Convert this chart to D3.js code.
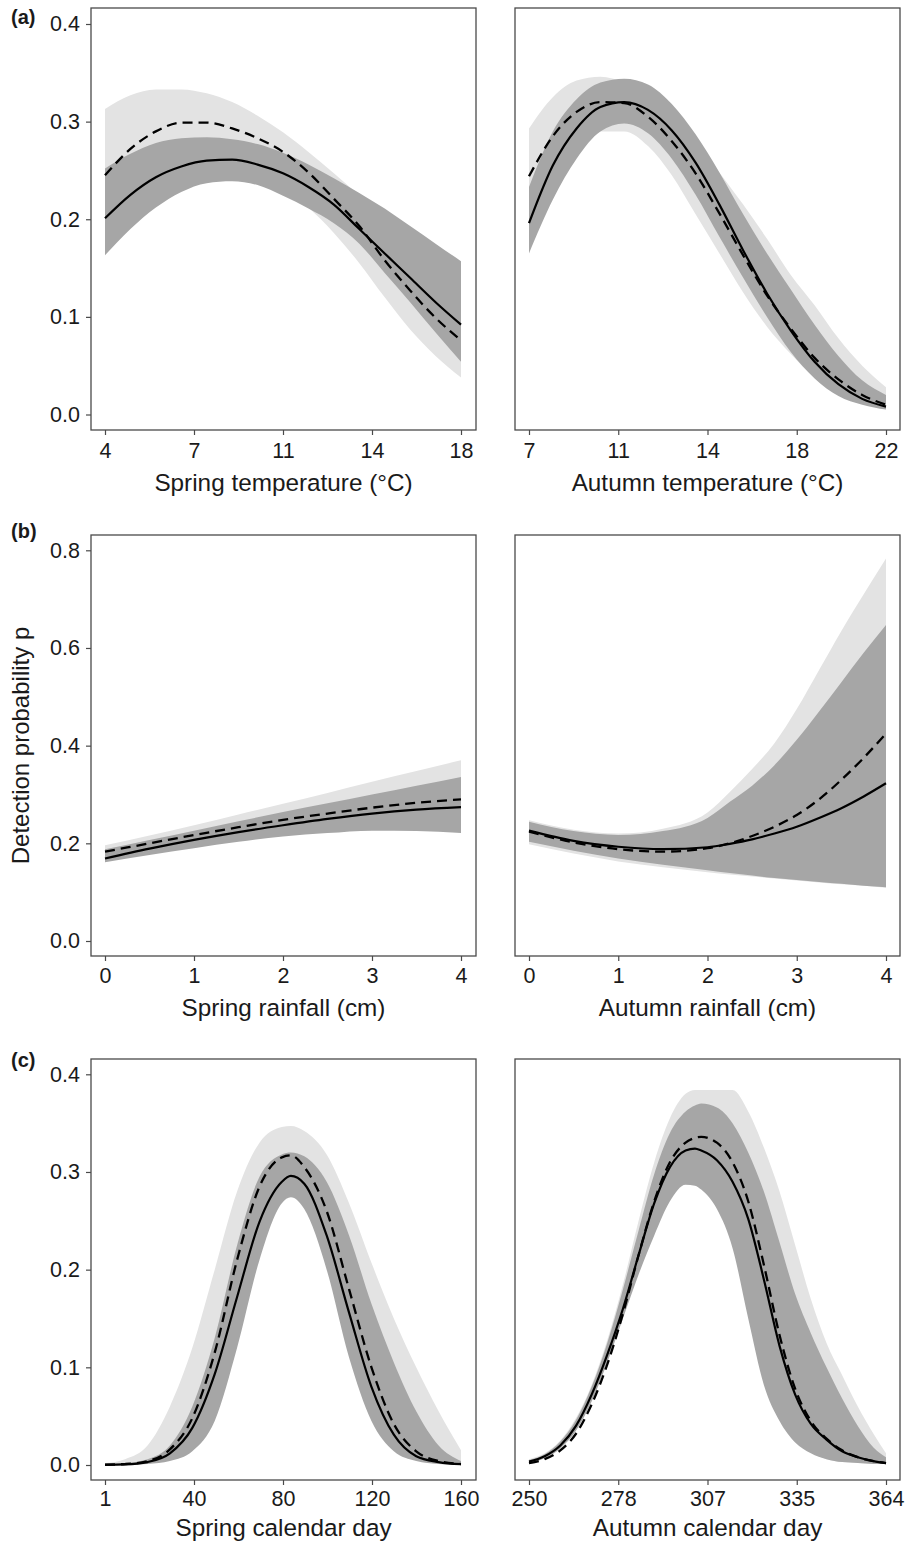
<!DOCTYPE html>
<html>
<head>
<meta charset="utf-8">
<script src="https://cdn.jsdelivr.net/npm/d3@7"></script>
<style>
  body { margin: 0; background: #fff; }
  text { font-family: "Liberation Sans", Arial, sans-serif; fill: #1a1a1a; }
</style>
</head>
<body>
<div id="chart-area"></div>
<script>
// detection probability figure, 3 rows x 2 cols
// solid line + dark ribbon, dashed line + light ribbon

// ---- data ----

// (a) spring temperature
let springTempX      = [4, 5, 6, 7, 8, 9, 10, 11, 12, 13, 14, 15, 16, 17, 18];
let springTempSolid  = [0.201, 0.225, 0.243, 0.254, 0.260, 0.261, 0.256, 0.247, 0.233, 0.215, 0.190, 0.165, 0.140, 0.115, 0.092];
let springTempDashed = [0.245, 0.272, 0.290, 0.299, 0.299, 0.293, 0.283, 0.269, 0.248, 0.221, 0.193, 0.158, 0.127, 0.099, 0.076];
let springTempDarkHi = [0.252, 0.267, 0.278, 0.283, 0.284, 0.282, 0.277, 0.268, 0.256, 0.242, 0.227, 0.211, 0.193, 0.175, 0.157];
let springTempDarkLo = [0.163, 0.190, 0.212, 0.228, 0.237, 0.239, 0.235, 0.224, 0.211, 0.196, 0.175, 0.145, 0.115, 0.084, 0.054];
let springTempLightHi = [0.313, 0.327, 0.333, 0.333, 0.329, 0.320, 0.306, 0.289, 0.269, 0.247, 0.224, 0.200, 0.178, 0.158, 0.140];
let springTempLightLo = [0.195, 0.225, 0.245, 0.256, 0.260, 0.257, 0.248, 0.233, 0.212, 0.186, 0.155, 0.120, 0.087, 0.060, 0.038];
let springTempTicks  = [4, 7.5, 11, 14.5, 18];
let springTempLabels = ["4", "7", "11", "14", "18"];

// (a) autumn temperature
let autumnTempX      = [7, 8, 9, 10, 11, 12, 13, 14, 15, 16, 17, 18, 19, 20, 21, 22];
let autumnTempSolid  = [0.196, 0.255, 0.293, 0.315, 0.320, 0.312, 0.291, 0.258, 0.215, 0.168, 0.124, 0.086, 0.054, 0.031, 0.016, 0.008];
let autumnTempDashed = [0.244, 0.285, 0.310, 0.320, 0.319, 0.305, 0.280, 0.247, 0.206, 0.163, 0.122, 0.088, 0.058, 0.036, 0.020, 0.010];
let autumnTempDarkHi = [0.233, 0.290, 0.323, 0.340, 0.344, 0.338, 0.318, 0.287, 0.248, 0.205, 0.165, 0.128, 0.092, 0.060, 0.035, 0.020];
let autumnTempDarkLo = [0.165, 0.220, 0.262, 0.290, 0.298, 0.288, 0.262, 0.225, 0.182, 0.140, 0.100, 0.064, 0.037, 0.019, 0.010, 0.005];
let autumnTempLightHi = [0.293, 0.325, 0.342, 0.346, 0.341, 0.333, 0.312, 0.282, 0.248, 0.215, 0.180, 0.143, 0.112, 0.078, 0.050, 0.028];
let autumnTempLightLo = [0.200, 0.245, 0.275, 0.290, 0.290, 0.275, 0.245, 0.205, 0.165, 0.125, 0.090, 0.062, 0.038, 0.022, 0.012, 0.007];
let autumnTempTicks  = [7, 10.75, 14.5, 18.25, 22];
let autumnTempLabels = ["7", "11", "14", "18", "22"];

// (b) spring rainfall
let springRainX      = [0, 0.5, 1, 1.5, 2, 2.5, 3, 3.5, 4];
let springRainSolid  = [0.169, 0.189, 0.207, 0.223, 0.237, 0.250, 0.261, 0.269, 0.274];
let springRainDashed = [0.183, 0.200, 0.217, 0.233, 0.248, 0.261, 0.273, 0.283, 0.290];
let springRainDarkHi = [0.188, 0.207, 0.226, 0.245, 0.264, 0.282, 0.300, 0.318, 0.336];
let springRainDarkLo = [0.161, 0.176, 0.190, 0.203, 0.214, 0.221, 0.226, 0.225, 0.221];
let springRainLightHi = [0.196, 0.216, 0.237, 0.259, 0.281, 0.303, 0.326, 0.348, 0.370];
let springRainLightLo = [0.171, 0.186, 0.200, 0.212, 0.222, 0.227, 0.230, 0.228, 0.225];
let rainTicks  = [0, 1, 2, 3, 4];
let rainLabels = ["0", "1", "2", "3", "4"];

// (b) autumn rainfall
let autumnRainX      = [0, 0.5, 1, 1.5, 2, 2.25, 2.5, 2.75, 3, 3.25, 3.5, 3.75, 4];
let autumnRainSolid  = [0.226, 0.205, 0.193, 0.188, 0.192, 0.199, 0.208, 0.220, 0.234, 0.252, 0.272, 0.296, 0.323];
let autumnRainDashed = [0.224, 0.202, 0.188, 0.183, 0.190, 0.200, 0.215, 0.234, 0.258, 0.290, 0.330, 0.375, 0.425];
let autumnRainDarkHi = [0.244, 0.225, 0.217, 0.225, 0.252, 0.285, 0.318, 0.360, 0.412, 0.470, 0.530, 0.590, 0.647];
let autumnRainDarkLo = [0.203, 0.185, 0.169, 0.156, 0.145, 0.139, 0.134, 0.129, 0.125, 0.121, 0.117, 0.113, 0.110];
let autumnRainLightHi = [0.247, 0.228, 0.220, 0.230, 0.263, 0.305, 0.352, 0.405, 0.475, 0.555, 0.635, 0.710, 0.783];
let autumnRainLightLo = [0.198, 0.179, 0.163, 0.151, 0.141, 0.136, 0.132, 0.128, 0.124, 0.120, 0.116, 0.113, 0.109];

// (c) spring calendar day
let springDayX      = [1, 10, 20, 30, 40, 50, 60, 70, 80, 84, 90, 100, 110, 120, 130, 140, 150, 160];
let springDaySolid  = [0.0002, 0.0006, 0.003, 0.012, 0.038, 0.093, 0.172, 0.249, 0.290, 0.296, 0.288, 0.235, 0.156, 0.080, 0.031, 0.009, 0.003, 0.0008];
let springDayDashed = [0.0003, 0.001, 0.004, 0.016, 0.048, 0.115, 0.210, 0.285, 0.315, 0.317, 0.305, 0.260, 0.180, 0.100, 0.042, 0.014, 0.004, 0.001];
let springDayDarkHi = [0.001, 0.002, 0.006, 0.020, 0.060, 0.130, 0.225, 0.295, 0.318, 0.320, 0.316, 0.290, 0.235, 0.165, 0.105, 0.055, 0.020, 0.004];
let springDayDarkLo = [0, 0.0002, 0.001, 0.004, 0.014, 0.045, 0.120, 0.210, 0.268, 0.274, 0.262, 0.200, 0.110, 0.045, 0.014, 0.004, 0.001, 0.0002];
let springDayLightHi = [0.002, 0.006, 0.020, 0.060, 0.120, 0.200, 0.280, 0.330, 0.346, 0.347, 0.342, 0.318, 0.268, 0.207, 0.150, 0.100, 0.055, 0.015];
let springDayLightLo = [0, 0.0005, 0.002, 0.007, 0.022, 0.065, 0.150, 0.235, 0.280, 0.285, 0.275, 0.215, 0.125, 0.055, 0.018, 0.005, 0.001, 0.0003];
let springDayTicks  = [1, 40.75, 80.5, 120.25, 160];
let springDayLabels = ["1", "40", "80", "120", "160"];

// (c) autumn calendar day
let autumnDayX      = [250, 255, 260, 265, 270, 275, 280, 285, 290, 295, 300, 303, 305, 310, 315, 320, 325, 330, 335, 340, 345, 350, 355, 360, 364];
let autumnDaySolid  = [0.0035, 0.009, 0.020, 0.040, 0.072, 0.113, 0.160, 0.215, 0.268, 0.305, 0.322, 0.324, 0.322, 0.312, 0.290, 0.252, 0.190, 0.122, 0.072, 0.042, 0.026, 0.014, 0.008, 0.004, 0.002];
let autumnDayDashed = [0.002, 0.006, 0.015, 0.032, 0.062, 0.103, 0.155, 0.215, 0.270, 0.310, 0.330, 0.335, 0.336, 0.330, 0.310, 0.270, 0.205, 0.133, 0.078, 0.045, 0.027, 0.015, 0.008, 0.004, 0.002];
let autumnDayDarkHi = [0.005, 0.011, 0.024, 0.046, 0.080, 0.125, 0.180, 0.240, 0.298, 0.340, 0.362, 0.368, 0.370, 0.366, 0.350, 0.320, 0.280, 0.228, 0.175, 0.135, 0.100, 0.068, 0.040, 0.018, 0.008];
let autumnDayDarkLo = [0.002, 0.007, 0.017, 0.035, 0.065, 0.105, 0.150, 0.195, 0.235, 0.270, 0.287, 0.286, 0.282, 0.262, 0.222, 0.150, 0.082, 0.045, 0.023, 0.012, 0.006, 0.003, 0.002, 0.001, 0.001];
let autumnDayLightHi = [0.006, 0.012, 0.025, 0.048, 0.082, 0.128, 0.185, 0.250, 0.310, 0.355, 0.380, 0.384, 0.384, 0.384, 0.384, 0.362, 0.325, 0.280, 0.225, 0.170, 0.125, 0.092, 0.060, 0.032, 0.012];
let autumnDayLightLo = [0.002, 0.007, 0.017, 0.036, 0.067, 0.108, 0.155, 0.200, 0.240, 0.275, 0.292, 0.291, 0.288, 0.268, 0.228, 0.155, 0.086, 0.047, 0.024, 0.013, 0.006, 0.003, 0.002, 0.001, 0.001];
let autumnDayTicks  = [250, 278.5, 307, 335.5, 364];
let autumnDayLabels = ["250", "278", "307", "335", "364"];

// y ticks per row
let yTicksA = [0, 0.1, 0.2, 0.3, 0.4];
let yTicksB = [0, 0.2, 0.4, 0.6, 0.8];

// ---- layout ----
let width = 918, height = 1543;

let cols = [
    {frame: [91, 476], range: [105, 461]},
    {frame: [515, 900], range: [529, 886]}
];

let rows = [
    {frame: [8, 430],    yMax: 0.4, yRange: [414.5, 24],   ticks: yTicksA, tag: "(a)", tagY: 24,   tickY: 28, titleY: 61},
    {frame: [535, 956],  yMax: 0.8, yRange: [941, 550.3],  ticks: yTicksB, tag: "(b)", tagY: 538,  tickY: 27, titleY: 60},
    {frame: [1059, 1480], yMax: 0.4, yRange: [1465, 1074.3], ticks: yTicksA, tag: "(c)", tagY: 1067, tickY: 26, titleY: 56}
];

let panels = [
    {row: 0, col: 0, x: springTempX, solid: springTempSolid, dashed: springTempDashed, darkHi: springTempDarkHi, darkLo: springTempDarkLo, lightHi: springTempLightHi, lightLo: springTempLightLo, ticks: springTempTicks, labels: springTempLabels, title: "Spring temperature (°C)"},
    {row: 0, col: 1, x: autumnTempX, solid: autumnTempSolid, dashed: autumnTempDashed, darkHi: autumnTempDarkHi, darkLo: autumnTempDarkLo, lightHi: autumnTempLightHi, lightLo: autumnTempLightLo, ticks: autumnTempTicks, labels: autumnTempLabels, title: "Autumn temperature (°C)"},
    {row: 1, col: 0, x: springRainX, solid: springRainSolid, dashed: springRainDashed, darkHi: springRainDarkHi, darkLo: springRainDarkLo, lightHi: springRainLightHi, lightLo: springRainLightLo, ticks: rainTicks, labels: rainLabels, title: "Spring rainfall (cm)"},
    {row: 1, col: 1, x: autumnRainX, solid: autumnRainSolid, dashed: autumnRainDashed, darkHi: autumnRainDarkHi, darkLo: autumnRainDarkLo, lightHi: autumnRainLightHi, lightLo: autumnRainLightLo, ticks: rainTicks, labels: rainLabels, title: "Autumn rainfall (cm)"},
    {row: 2, col: 0, x: springDayX, solid: springDaySolid, dashed: springDayDashed, darkHi: springDayDarkHi, darkLo: springDayDarkLo, lightHi: springDayLightHi, lightLo: springDayLightLo, ticks: springDayTicks, labels: springDayLabels, title: "Spring calendar day"},
    {row: 2, col: 1, x: autumnDayX, solid: autumnDaySolid, dashed: autumnDayDashed, darkHi: autumnDayDarkHi, darkLo: autumnDayDarkLo, lightHi: autumnDayLightHi, lightLo: autumnDayLightLo, ticks: autumnDayTicks, labels: autumnDayLabels, title: "Autumn calendar day"}
];

let lightGrey = "#e3e3e3",
    darkGrey = "#a6a6a6",
    frameCol = "#4a4a4a";

let svg = d3.select("#chart-area").append("svg")
    .attr("width", width)
    .attr("height", height);

panels.forEach(drawPanel);

// row tags (a) (b) (c)
rows.forEach(r => {
    svg.append("text")
        .attr("x", 11)
        .attr("y", r.tagY)
        .style("font-size", "20px")
        .style("font-weight", "bold")
        .text(r.tag);
});

// shared y title
svg.append("text")
    .attr("transform", "translate(29," + ((rows[1].frame[0] + rows[1].frame[1]) / 2) + ") rotate(-90)")
    .attr("text-anchor", "middle")
    .style("font-size", "24px")
    .text("Detection probability p");

function drawPanel(p) {
    let r = rows[p.row], c = cols[p.col];

    let x = d3.scaleLinear()
        .domain(d3.extent(p.x))
        .range(c.range);

    let y = d3.scaleLinear()
        .domain([0, r.yMax])
        .range(r.yRange);

    let data = p.x.map((v, i) => ({
        x: v, solid: p.solid[i], dashed: p.dashed[i],
        darkHi: p.darkHi[i], darkLo: p.darkLo[i],
        lightHi: p.lightHi[i], lightLo: p.lightLo[i]
    }));

    let g = svg.append("g");

    let band = (lo, hi) => d3.area()
        .curve(d3.curveMonotoneX)
        .x(d => x(d.x))
        .y0(d => y(d[lo]))
        .y1(d => y(d[hi]));

    let line = key => d3.line()
        .curve(d3.curveMonotoneX)
        .x(d => x(d.x))
        .y(d => y(d[key]));

    g.append("path")
        .datum(data)
        .attr("fill", lightGrey)
        .attr("d", band("lightLo", "lightHi"));

    g.append("path")
        .datum(data)
        .attr("fill", darkGrey)
        .attr("d", band("darkLo", "darkHi"));

    g.append("path")
        .datum(data)
        .attr("fill", "none")
        .attr("stroke", "#000")
        .attr("stroke-width", 2.3)
        .attr("stroke-dasharray", "10,6")
        .attr("d", line("dashed"));

    g.append("path")
        .datum(data)
        .attr("fill", "none")
        .attr("stroke", "#000")
        .attr("stroke-width", 2.2)
        .attr("d", line("solid"));

    // frame
    g.append("rect")
        .attr("x", c.frame[0])
        .attr("y", r.frame[0])
        .attr("width", c.frame[1] - c.frame[0])
        .attr("height", r.frame[1] - r.frame[0])
        .attr("fill", "none")
        .attr("stroke", frameCol)
        .attr("stroke-width", 1.3);

    // x axis
    let xAxis = d3.axisBottom(x)
        .tickValues(p.ticks)
        .tickFormat((d, i) => p.labels[i])
        .tickSize(5);

    let xg = g.append("g")
        .attr("transform", "translate(0," + r.frame[1] + ")")
        .call(xAxis);
    xg.select(".domain").remove();
    xg.selectAll(".tick line").attr("stroke", frameCol).attr("stroke-width", 1.2);
    xg.selectAll(".tick text")
        .attr("y", r.tickY)
        .attr("dy", null)
        .attr("fill", "#1a1a1a")
        .style("font-size", "21.5px")
        .style("font-family", "'Liberation Sans', Arial, sans-serif");

    // x title
    g.append("text")
        .attr("x", (c.frame[0] + c.frame[1]) / 2)
        .attr("y", r.frame[1] + r.titleY)
        .attr("text-anchor", "middle")
        .style("font-size", "24.3px")
        .text(p.title);

    // y axis only on the left column
    if (p.col === 0) {
        let yAxis = d3.axisLeft(y)
            .tickValues(r.ticks)
            .tickFormat(d3.format(".1f"))
            .tickSize(5)
            .tickPadding(6);

        let yg = g.append("g")
            .attr("transform", "translate(" + c.frame[0] + ",0)")
            .call(yAxis);
        yg.select(".domain").remove();
        yg.selectAll(".tick line").attr("stroke", frameCol).attr("stroke-width", 1.2);
        yg.selectAll(".tick text")
            .attr("fill", "#1a1a1a")
            .style("font-size", "21.5px")
            .style("font-family", "'Liberation Sans', Arial, sans-serif");
    }
}
</script>
</body>
</html>
